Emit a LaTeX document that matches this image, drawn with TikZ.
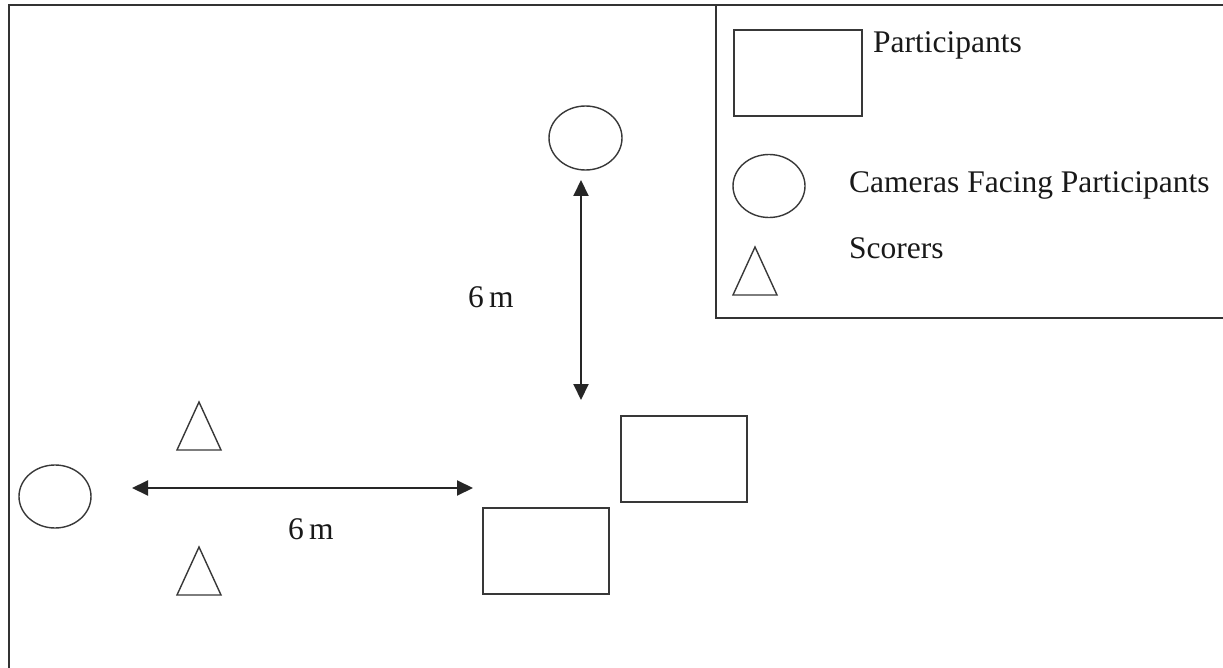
\documentclass[tikz,border=0pt]{standalone}
\usepackage{fontspec}
\setmainfont{Liberation Serif}
\usetikzlibrary{shapes.geometric,arrows.meta}
\begin{document}
\begin{tikzpicture}[x=1pt,y=-1pt,
  outline/.style={draw=black!78,line width=1.4pt},
  frame/.style={draw=black!80,line width=2pt},
  camera/.style={outline,ellipse,minimum width=72pt,minimum height=63pt,inner sep=0pt},
  participant/.style={outline,rectangle,minimum width=126pt,minimum height=86pt,inner sep=0pt},
  scorer/.style={outline,line join=miter},
  dist/.style={line width=2pt,draw=black!85,{Triangle[length=16pt,width=15pt]}-{Triangle[length=16pt,width=15pt]}},
  label/.style={font=\fontsize{31.5}{34}\selectfont,text=black!90,inner sep=0pt,anchor=base west}]
\useasboundingbox (0,0) rectangle (1223,668);
\fill[white] (0,0) rectangle (1223,668);

% outer frame and legend frame (run past the page edge)
\begin{scope}
  \clip (0,0) rectangle (1223,668);
  \draw[frame] (9,700) -- (9,5) -- (1240,5);
  \draw[frame] (716,5) -- (716,318) -- (1240,318);
\end{scope}

% legend
\node[participant,minimum width=128pt] (legRect) at (798,73) {};
\node[label] (legRectText) at (873,53) {Participants};
\node[camera] (legCam) at (769,186) {};
\node[label] (legCamText) at (849,193) {Cameras Facing Participants};
\draw[scorer] (733,295) -- (755,247) -- (777,295) -- cycle;
\node[label] (legScorerText) at (849,259) {Scorers};

% cameras
\node[camera,minimum width=73pt,minimum height=64pt] (camTop) at (585.5,138) {};
\node[camera,minimum height=63pt] (camLeft) at (55,496.5) {};

% participants
\node[participant] (partA) at (684,459) {};
\node[participant] (partB) at (546,551) {};

% scorers
\draw[scorer] (177,450) -- (199,402) -- (221,450) -- cycle;
\draw[scorer] (177,595) -- (199,547) -- (221,595) -- cycle;

% distances
\coordinate (vTop) at (581,180);
\coordinate (vBot) at (581,400);
\coordinate (hLeft) at (132,488);
\coordinate (hRight) at (473,488);
\draw[dist] (vTop) -- (vBot);
\draw[dist] (hLeft) -- (hRight);
\node[label] (vDist) at (468,307) {6\,m};
\node[label] (hDist) at (288,539) {6\,m};
\end{tikzpicture}
\end{document}
